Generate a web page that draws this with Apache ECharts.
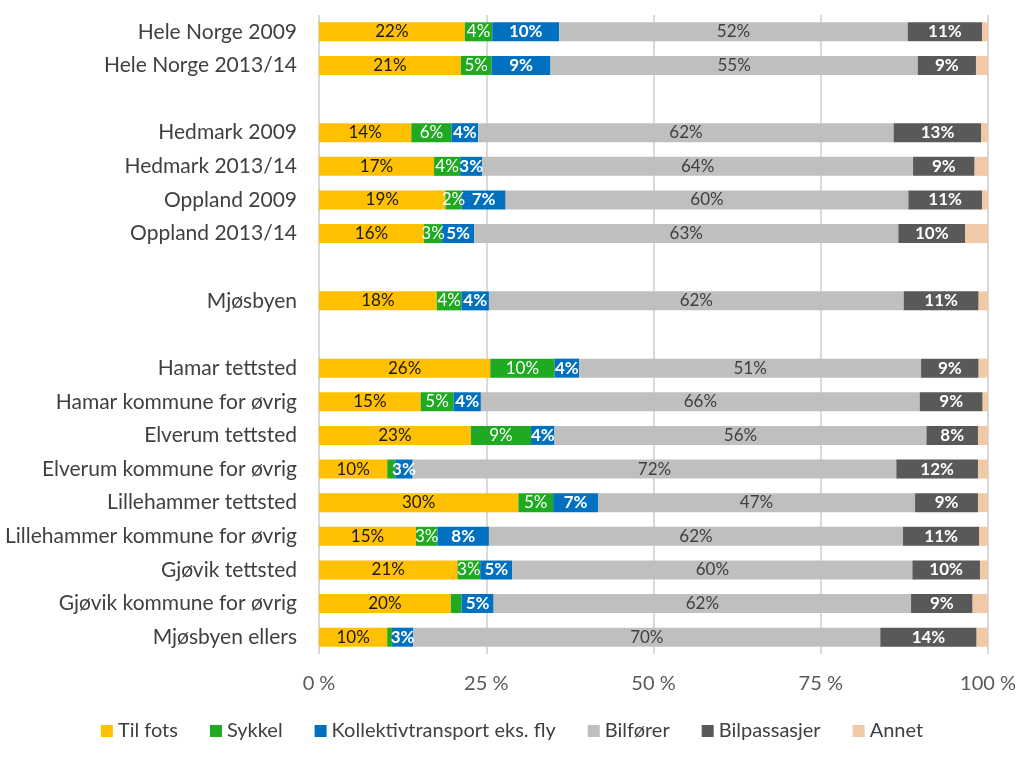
<!DOCTYPE html>
<html><head><meta charset="utf-8">
<script src="https://cdn.jsdelivr.net/npm/echarts@6/dist/echarts.min.js"></script>
<style>html,body{margin:0;padding:0;background:#fff}#c{width:1024px;height:759px}</style>
</head><body><div id="c"></div>
<script>
const categories = ["Hele Norge 2009","Hele Norge 2013/14","","Hedmark 2009","Hedmark 2013/14","Oppland 2009","Oppland 2013/14"," ","Mjøsbyen","  ","Hamar tettsted","Hamar kommune for øvrig","Elverum tettsted","Elverum kommune for øvrig","Lillehammer tettsted","Lillehammer kommune for øvrig","Gjøvik tettsted","Gjøvik kommune for øvrig","Mjøsbyen ellers"];
const tilFots =     [21.8,21.2,null,13.8,17.2,18.9,15.7,null,17.6,null,25.6,15.2,22.7,10.2,29.8,14.5,20.7,19.7,10.2];
const sykkel =      [4.1, 4.6, null,6.0, 3.9, 2.4, 2.7, null,3.7, null,9.6, 4.9, 9.0, 1.2, 5.2, 3.2, 3.4, 1.6, 0.7];
const kollektiv =   [10.0,8.8, null,4.0, 3.3, 6.6, 4.8, null,4.1, null,3.7, 4.1, 3.5, 2.6, 6.7, 7.7, 4.8, 4.8, 3.2];
const bilforer =    [52.1,54.9,null,62.1,64.4,60.2,63.4,null,62.0,null,51.1,65.6,55.6,72.3,47.4,61.9,59.8,62.4,69.8];
const bilpassasjer= [11.1,8.7, null,13.1,9.2, 11.0,10.0,null,11.2,null,8.6, 9.4, 7.7, 12.2,9.4, 11.4,10.1,9.2, 14.4];
const annet =       [0.9, 1.8, null,1.0, 2.0, 0.9, 3.4, null,1.4, null,1.4, 0.8, 1.5, 1.5, 1.5, 1.3, 1.2, 2.3, 1.7];
const xTicks = ["0 %","25 %","50 %","75 %","100 %"];

const FONT = "Lato";
function mk(name, data, color, lblColor, bold, showLbl){
  return {
    name, type:'bar', stack:'s', data, barWidth:19,
    itemStyle:{color},
    label:{show:showLbl, position:'inside', color:lblColor, fontFamily:FONT, fontSize:17,
      fontWeight: bold?'bold':'normal',
      formatter: p => (p.value==null || p.value < 2) ? '' : Math.round(p.value)+'%'},
    emphasis:{disabled:true}
  };
}
const chart = echarts.init(document.getElementById('c'));
chart.setOption({
  animation:false,
  textStyle:{fontFamily:FONT},
  grid:{left:319, right:36, top:15, height:639, containLabel:false},
  xAxis:{type:'value', min:0, max:100, interval:25,
    axisLine:{show:false}, axisTick:{show:false},
    splitLine:{lineStyle:{color:'#D9D9D9', width:2}},
    axisLabel:{color:'#595959', fontSize:20, fontFamily:FONT, margin:20,
      formatter: v => xTicks[v/25]}},
  yAxis:{type:'category', data:categories, inverse:true,
    axisLine:{show:false}, axisTick:{show:false},
    axisLabel:{color:'#404040', fontSize:21, fontFamily:FONT, margin:22}},
  legend:{bottom:13, left:'center', itemWidth:12, itemHeight:12, itemGap:32, icon:'rect',
    textStyle:{color:'#404040', fontSize:20, fontFamily:FONT}, itemStyle:{borderWidth:0}},
  series:[
    mk('Til fots', tilFots, '#FFC000', '#1a1a1a', false, true),
    mk('Sykkel', sykkel, '#1FAA22', '#ffffff', false, true),
    mk('Kollektivtransport eks. fly', kollektiv, '#0070C0', '#ffffff', true, true),
    mk('Bilfører', bilforer, '#BFBFBF', '#404040', false, true),
    mk('Bilpassasjer', bilpassasjer, '#595959', '#ffffff', true, true),
    mk('Annet', annet, '#F0C9A6', '#404040', false, false)
  ]
});
</script></body></html>
